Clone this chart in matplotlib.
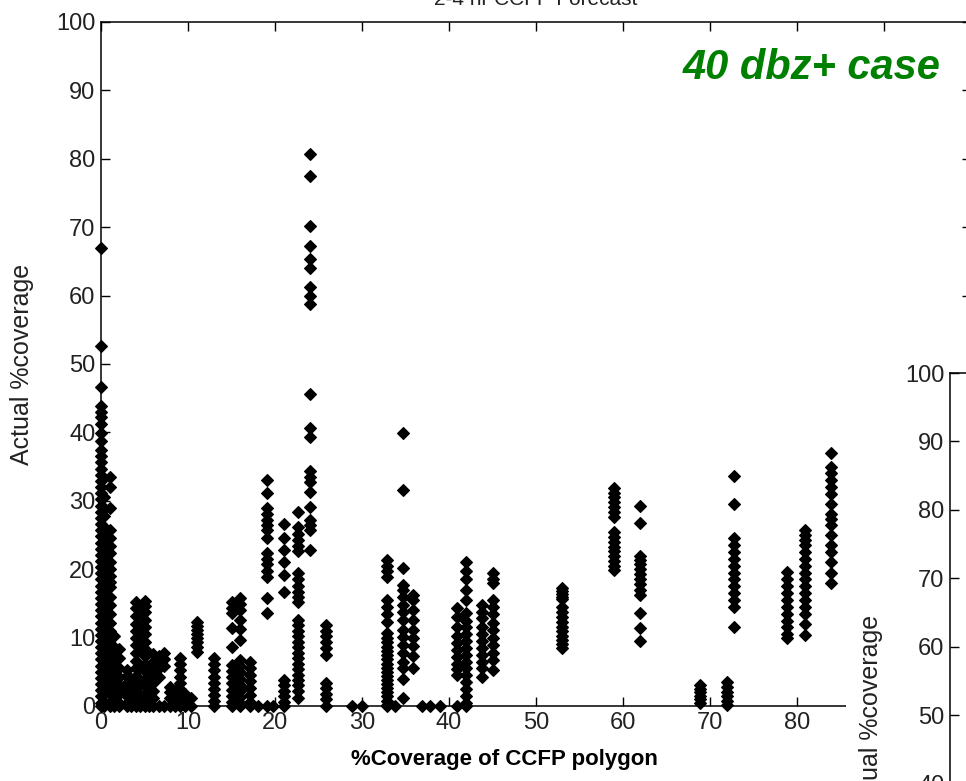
import numpy as np
import matplotlib.pyplot as plt
from matplotlib.patches import Rectangle

plt.rcParams['font.family'] = ['Liberation Sans', 'DejaVu Sans']

# forecast coverage (x) of each column of points
forecast_pct = [0, 0.4, 1.0, 1.5, 2.1, 3.0, 3.5, 4.0, 4.5, 5.0, 5.5, 6.0, 6.7, 7.2, 7.9,
                8.5, 9.1, 9.7, 10.3, 11.0, 13.0, 15.0, 16.0, 17.1, 18.1, 19.1, 19.8,
                21.0, 22.7, 24.0, 25.9, 28.9, 30.0, 32.9, 33.8, 34.7, 35.9, 36.9, 37.8,
                39.0, 40.9, 42.0, 43.8, 45.0, 53.0, 59.0, 61.9, 68.9, 71.9, 72.8, 78.8,
                80.9, 83.9]

# actual coverage (y) of the points in each column
actual_pct = [
    [67, 52.6, 46.6, 43.8, 43, 42.2, 41.3, 39.9, 38.8, 37.4, 36.5, 35.6, 34.7, 33.8, 32.9,
     32, 31.1, 30.2, 29.3, 28.4, 27.5, 26.6, 25.7, 24.8, 23.9, 23, 22.1, 21.2, 20.3, 19.4,
     18.5, 17.6, 16.7, 15.8, 14.9, 14, 13.1, 12.2, 11.3, 10.4, 9.5, 8.6, 7.7, 6.8, 5.9, 5,
     4.1, 3.2, 2.3, 1.4, 0.5, 0],
    [30.5, 29, 27.8, 26.2, 25, 23.6, 22, 20.8, 19.5, 18.2, 17, 15.6, 14.3, 13, 11.8, 10.5,
     9.2, 8, 6.7, 5.5, 4.2, 3, 1.8, 0.6, 0],
    [33.5, 32, 29, 25.7, 24.5, 23.4, 22.4, 21, 20, 19, 18.2, 17.4, 16, 14.8, 13.5, 12.2,
     11, 9.8, 8.7, 7.5, 6.3, 5.2, 4, 2.9, 1.7, 0.5, 0],
    [10.2, 8.6, 7.3, 6, 4.8, 3.5, 2.2, 1, 0],
    [8.4, 7, 5.6, 4.3, 3, 1.7, 0.5, 0],
    [5.3, 4.4, 3.4, 2.4, 1.4, 0.5, 0],
    [4, 2.8, 1.6, 0],
    [15.2, 14.4, 13.2, 12, 11, 10, 8.9, 7.8, 6.6, 5.5, 4.4, 3.3, 2.2, 1.1, 0],
    [11, 8.2, 5.6, 3, 0.8, 0],
    [15.4, 14.6, 13.7, 12.6, 11.6, 10.5, 9.4, 8.4, 7.3, 6.2, 5.1, 4, 2.9, 1.8, 0.7, 0],
    [4.5, 2, 0],
    [7.6, 6.5, 5.4, 4.4, 3.3, 2.2, 1.1, 0],
    [7.3, 6.4, 5.5, 4.2, 0],
    [7.7, 6.8, 5.8, 0],
    [2.8, 2, 1.2, 0],
    [2.4, 1.5, 0.6, 0],
    [7, 6.1, 5.2, 4.3, 3.4, 2.5, 1.6, 0.8, 0],
    [1.8, 0.9, 0],
    [1.2, 0],
    [12.3, 11.7, 11.1, 10.5, 9.9, 9.3, 8.6, 7.9],
    [7, 6.1, 5.2, 4.3, 3.4, 2.5, 1.6, 0.7, 0],
    [15.2, 14.4, 13.6, 11.4, 8.6, 6, 5.1, 4.2, 3.3, 2.4, 1.5, 0.6, 0],
    [15.8, 14.9, 14, 12.6, 11.2, 9.6, 6.7, 5.8, 4.9, 4, 3.1, 2.2, 1.3, 0.4, 0],
    [6.5, 5.6, 4.6, 3.6, 2.6, 1.6, 0.6, 0],
    [0],
    [33, 31.1, 28.9, 28, 27.2, 26.4, 25.7, 24.5, 22.3, 21.5, 20.7, 19.8, 18.9, 15.8, 13.6, 0],
    [0],
    [26.6, 24.5, 22.8, 21.1, 19.1, 16.6, 3.8, 3, 2.2, 1.4, 0.6, 0],
    [28.4, 26.2, 25.2, 24.2, 23.4, 22.6, 19.4, 18.5, 17.6, 16.7, 15.9, 15.2, 12.6, 11.8,
     11, 10.2, 9.4, 8.6, 7.8, 7, 6.2, 5.4, 4.6, 3.8, 3, 2.2, 1.2],
    [80.7, 77.5, 70.2, 67.3, 65.3, 64.1, 61.2, 60, 58.8, 45.6, 40.6, 39.3, 34.3, 33.5,
     32.8, 31.3, 29.1, 27.2, 26.4, 25.7, 22.8],
    [11.8, 11, 10.2, 9.4, 8.5, 7.5, 3.4, 2.6, 1.8, 1, 0],
    [0],
    [0],
    [21.3, 20.5, 19.7, 18.9, 15.5, 14.5, 13.5, 12.3, 10.7, 10, 9.3, 8.6, 8, 7.4, 6.8, 6.2,
     5.6, 5, 4.4, 3.8, 3.2, 2.6, 2, 1.4, 0.8, 0.2, 0],
    [0],
    [39.9, 31.6, 20.2, 17.7, 17, 16, 14.8, 13.8, 12.6, 11.1, 10.1, 8.9, 7.7, 6.5, 5.5, 4, 1.2],
    [16.2, 15.5, 14, 12.6, 11.1, 9.9, 8.7, 7.3, 5.5],
    [0],
    [0],
    [0],
    [14.3, 13, 11.5, 10.3, 9.2, 8.2, 7.2, 6.2, 5.4, 4.5, 0],
    [21, 19.8, 18.5, 17, 15.5, 13.6, 12.5, 11.5, 10.5, 9.5, 8.5, 7.5, 6.5, 5.5, 4.5, 3.5,
     2.5, 1.5, 0.5, 0],
    [14.8, 13.8, 12.8, 11.5, 10.5, 9.5, 8.5, 7.5, 6.5, 5.5, 4.2],
    [19.4, 18.6, 18, 15.5, 14.5, 13.4, 12.2, 11.1, 10, 8.9, 7.8, 6.7, 5.3],
    [17.2, 16.8, 16.4, 16, 15.6, 14.5, 13.8, 13, 12.3, 11.6, 11, 10.3, 9.6, 9, 8.5],
    [31.9, 31.2, 30.5, 29.8, 29.1, 28.4, 27.7, 25.4, 24.7, 24, 23.3, 22.6, 21.9, 21.2,
     20.5, 19.9],
    [29.2, 26.7, 22, 21.3, 20.7, 20, 19.3, 18.5, 17.8, 17, 16.2, 13.6, 11.4, 9.5],
    [3, 2.5, 2, 1.5, 1, 0.5],
    [3.5, 2.8, 2.1, 1.4, 0.7, 0.2],
    [33.6, 29.5, 24.6, 23.5, 22.5, 21.5, 20.5, 19.5, 18.5, 17.5, 16.5, 15.5, 14.5, 11.6],
    [19.6, 18.5, 17.5, 16.5, 15.5, 14.5, 13.5, 12.5, 11.5, 10.5, 9.9],
    [25.7, 25, 24.2, 23.5, 22.5, 21.5, 20.5, 19.5, 18.5, 17.5, 16.5, 15.5, 14.5, 13.5,
     12, 10.4],
    [37, 35, 34, 33, 32, 31, 29.5, 28, 27.3, 26.5, 25, 23.5, 22.5, 21, 19.5, 18],
]

ticks = [0, 10, 20, 30, 40, 50, 60, 70, 80, 90, 100]
x_ticklabels = ['0', '10', '20', '30', '40', '50', '60', '70', '80', '', '']

xs = []
ys = []
for xv, col in zip(forecast_pct, actual_pct):
    xs += [xv] * len(col)
    ys += col

fig = plt.figure(figsize=(9.66, 7.81), dpi=100)

ax = fig.add_axes([101 / 966, 75 / 781, 870 / 966, 684 / 781])
ax.plot(xs, ys, linestyle='none', marker='D', markersize=6, color='black',
        markeredgewidth=0.8, clip_on=False)
ax.set_xlim(0, 100)
ax.set_ylim(0, 100)
ax.set_xticks(ticks)
ax.set_xticklabels(x_ticklabels)
ax.set_yticks(ticks)
ax.tick_params(direction='in', top=True, right=True, length=6.5, width=1,
               labelsize=17, labelcolor='#222222', pad=4)
for s in ax.spines.values():
    s.set_linewidth(1.1)
ax.set_ylabel('Actual %coverage', fontsize=18, color='#222222', labelpad=16)
# title sits almost entirely above the cropped top edge, as in the source
ax.set_title('2-4 hr CCFP Forecast', fontsize=15, color='#222222', pad=12)

# pasted second panel on the right
fig.patches.append(Rectangle((846 / 966, 0), 120 / 966, 428 / 781,
                             transform=fig.transFigure, facecolor='white',
                             edgecolor='none', zorder=1))

ax2 = fig.add_axes([950 / 966, -276 / 781, 0.3, 684 / 781])
ax2.set_zorder(2)
ax2.set_xlim(0, 100)
ax2.set_ylim(0, 100)
ax2.set_yticks(ticks)
ax2.set_xticks([])
ax2.tick_params(direction='in', right=True, length=6.5, width=1,
                labelsize=17, labelcolor='#222222', pad=4)
for s in ax2.spines.values():
    s.set_linewidth(1.1)
ax2.set_ylabel('Actual %coverage', fontsize=18, color='#222222', labelpad=16)

fig.text(812 / 966, 1 - 68 / 781, '40 dbz+ case', fontsize=30, color='#008000',
         fontweight='bold', fontstyle='italic', ha='center', va='center')
fig.text(504 / 966, 1 - 759 / 781, '%Coverage of CCFP polygon', fontsize=16,
         fontweight='bold', ha='center', va='center')

fig.savefig('out.png', dpi=100)
